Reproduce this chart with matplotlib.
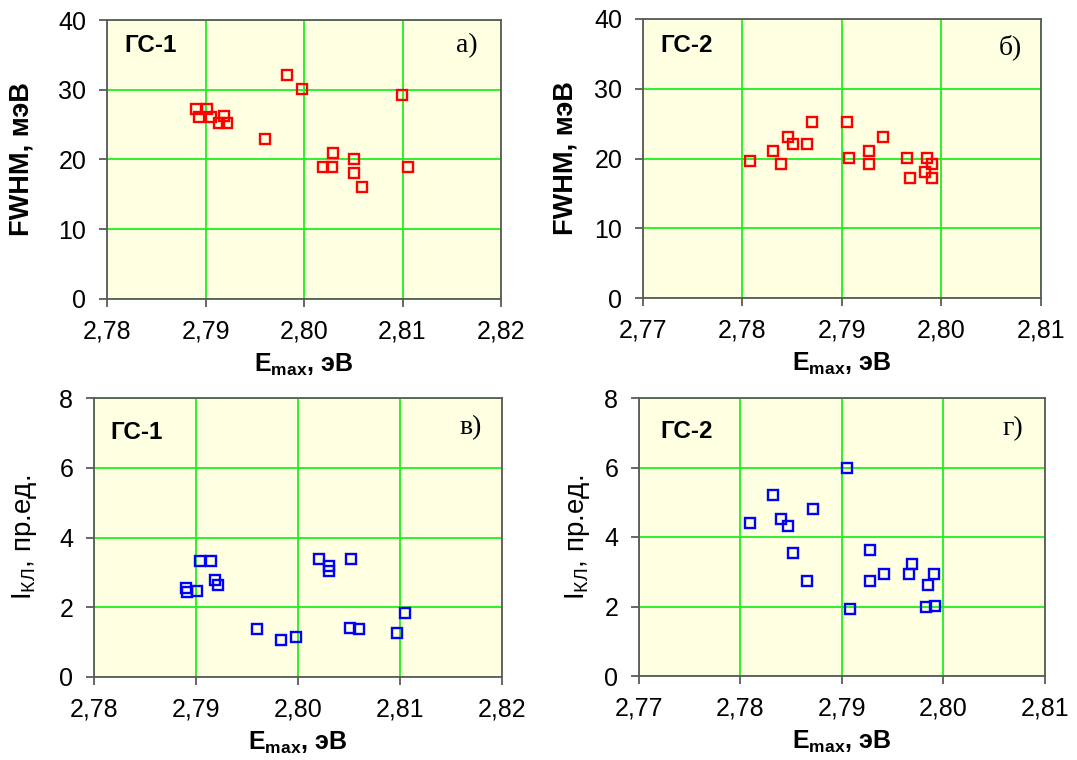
import matplotlib
matplotlib.use('Agg')
import matplotlib.pyplot as plt
from matplotlib.ticker import FixedLocator, FixedFormatter

plt.rcParams['font.family'] = ['Liberation Sans', 'DejaVu Sans']
plt.rcParams['mathtext.fontset'] = 'custom'
plt.rcParams['mathtext.rm'] = 'Liberation Sans'
plt.rcParams['mathtext.bf'] = 'Liberation Sans:bold'
plt.rcParams['mathtext.it'] = 'Liberation Sans:italic'

# ---- data ----
# panel а) ГС-1 FWHM
e_a = [2.7890, 2.7902, 2.7893, 2.7906, 2.7919, 2.7914, 2.7922, 2.7960, 2.7983,
       2.7998, 2.8099, 2.8029, 2.8019, 2.8028, 2.8051, 2.8051, 2.8059, 2.8106]
fwhm_a = [27.2, 27.2, 26.1, 26.1, 26.3, 25.2, 25.2, 23.0, 32.1,
          30.1, 29.2, 21.0, 18.9, 18.9, 20.1, 18.1, 16.1, 18.9]
# panel б) ГС-2 FWHM
e_b = [2.7808, 2.7831, 2.7839, 2.7846, 2.7851, 2.7865, 2.7870, 2.7905, 2.7907,
       2.7927, 2.7927, 2.7941, 2.7965, 2.7968, 2.7985, 2.7983, 2.7990, 2.7990]
fwhm_b = [19.7, 21.1, 19.2, 23.1, 22.1, 22.1, 25.2, 25.2, 20.1,
          21.1, 19.2, 23.1, 20.1, 17.2, 20.1, 18.1, 19.2, 17.2]
# panel в) ГС-1 intensity
e_c = [2.7904, 2.7915, 2.7919, 2.7922, 2.7890, 2.7891, 2.7901, 2.8021, 2.8030,
       2.8030, 2.8052, 2.7960, 2.7983, 2.7998, 2.8051, 2.8060, 2.8097, 2.8105]
ikl_c = [3.34, 3.34, 2.77, 2.64, 2.55, 2.43, 2.48, 3.37, 3.18,
         3.03, 3.37, 1.38, 1.07, 1.14, 1.41, 1.38, 1.25, 1.83]
# panel г) ГС-2 intensity
e_d = [2.7905, 2.7832, 2.7871, 2.7809, 2.7840, 2.7847, 2.7852, 2.7866, 2.7928,
       2.7928, 2.7941, 2.7969, 2.7966, 2.7991, 2.7985, 2.7983, 2.7992, 2.7908]
ikl_d = [6.00, 5.22, 4.82, 4.41, 4.51, 4.32, 3.53, 2.72, 3.62,
         2.72, 2.93, 3.21, 2.93, 2.93, 2.63, 1.99, 2.01, 1.92]

xticks_1 = [2.78, 2.79, 2.80, 2.81, 2.82]
xticklabels_1 = ['2,78', '2,79', '2,80', '2,81', '2,82']
xticks_2 = [2.77, 2.78, 2.79, 2.80, 2.81]
xticklabels_2 = ['2,77', '2,78', '2,79', '2,80', '2,81']
yticks_fwhm = [0, 10, 20, 30, 40]
yticks_ikl = [0, 2, 4, 6, 8]

W, H = 1077, 760
fig = plt.figure(figsize=(W / 100, H / 100), dpi=100)
fig.patch.set_facecolor('white')


def px_axes(l, r, t, b):
    return fig.add_axes([l / W, 1 - b / H, (r - l) / W, (b - t) / H])


ax_a = px_axes(107, 501, 20, 299)
ax_b = px_axes(643, 1041, 19, 298)
ax_c = px_axes(94, 502, 398, 677)
ax_d = px_axes(639, 1045, 398, 676)

grid_c = '#1EF01E'
frame_c = '#5a5a5a'
bg = '#FFFFE1'

PT = 0.72  # points per pixel at dpi 100

panels = [
    (ax_a, e_a, fwhm_a, 'red', xticks_1, xticklabels_1, yticks_fwhm,
     'FWHM, мэВ', 'ГС-1', 'а)', -0.185, (17, 25), (23, 26)),
    (ax_b, e_b, fwhm_b, 'red', xticks_2, xticklabels_2, yticks_fwhm,
     'FWHM, мэВ', 'ГС-2', 'б)', -0.163, (17, 26), (19, 28)),
    (ax_c, e_c, ikl_c, 'blue', xticks_1, xticklabels_1, yticks_ikl,
     r'$\mathrm{I}_{\mathrm{КЛ}}$, пр.ед.', 'ГС-1', 'в)', -0.135, (16, 34), (20, 30)),
    (ax_d, e_d, ikl_d, 'blue', xticks_2, xticklabels_2, yticks_ikl,
     r'$\mathrm{I}_{\mathrm{КЛ}}$, пр.ед.', 'ГС-2', 'г)', -0.115, (21, 34), (22, 31)),
]

for i, (ax, x, y, col, xt, xtl, yt, ylab, tag, letter, ylx, tagoff, letoff) in enumerate(panels):
    ax.set_facecolor(bg)
    ax.plot(x, y, 's', mfc='none', mec=col, ms=7.2, mew=1.7, zorder=3,
            clip_on=False)
    ax.set_xlim(xt[0], xt[-1])
    ax.set_ylim(yt[0], yt[-1])
    ax.xaxis.set_major_locator(FixedLocator(xt))
    ax.xaxis.set_major_formatter(FixedFormatter(xtl))
    ax.yaxis.set_major_locator(FixedLocator(yt))
    ax.grid(True, color=grid_c, lw=1.3, zorder=1)
    ax.set_axisbelow(True)
    for s in ax.spines.values():
        s.set_color(frame_c)
        s.set_linewidth(1.3)
        s.set_zorder(2)
    ax.tick_params(direction='out', length=6, width=1.3, color=frame_c,
                   labelsize=18, pad=9)
    if i < 2:
        ax.set_ylabel(ylab, fontsize=19.5, fontweight='bold')
    else:
        ax.set_ylabel(ylab, fontsize=20)
    ax.yaxis.set_label_coords(ylx, 0.5)
    ax.set_xlabel(r'$\mathbf{E_{max}}$, эВ', fontsize=18, fontweight='bold')
    ax.xaxis.set_label_coords(0.5, -0.19)
    ax.annotate(tag, xy=(0, 1), xycoords='axes fraction',
                xytext=(tagoff[0] * PT, -tagoff[1] * PT),
                textcoords='offset points', ha='left', va='center',
                fontsize=17.5, fontweight='bold')
    ax.annotate(letter, xy=(1, 1), xycoords='axes fraction',
                xytext=(-letoff[0] * PT, -letoff[1] * PT),
                textcoords='offset points', ha='right', va='center',
                fontsize=20, family=['Liberation Serif', 'DejaVu Serif'])

fig.savefig('out.png', dpi=100, facecolor='white')
